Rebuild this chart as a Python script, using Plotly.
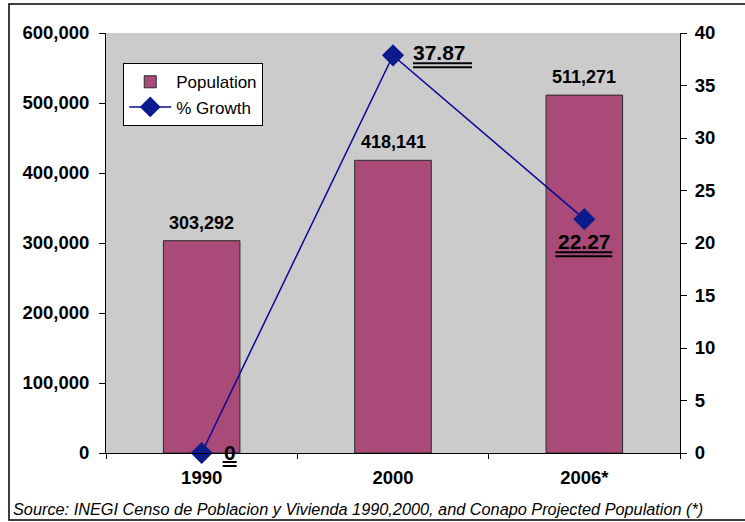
import plotly.graph_objects as go

# Population and growth data
years = ["1990", "2000", "2006*"]
population = [303292, 418141, 511271]
growth = [0, 37.87, 22.27]
growth_labels = ["0", "37.87", "22.27"]

pop_ticks = [0, 100000, 200000, 300000, 400000, 500000, 600000]
growth_ticks = [0, 5, 10, 15, 20, 25, 30, 35, 40]
POP_MAX = 600000
GROWTH_MAX = 40

source_note = "Source: INEGI Censo de Poblacion y Vivienda 1990,2000, and Conapo Projected Population (*)"

FONT = "Liberation Sans, Arial, sans-serif"
BAR_COLOR = "#A94A78"
LINE_COLOR = "#0A0A96"
MARKER_COLOR = "#0B1A8C"
TICK_FONT = dict(family=FONT, size=18.5, color="black", weight="bold")

fig = go.Figure()

fig.add_trace(go.Bar(
    x=years, y=population, name="Population",
    marker=dict(color=BAR_COLOR, line=dict(color="#2a2a2a", width=1)),
    width=0.4, yaxis="y",
))

fig.add_trace(go.Scatter(
    x=years, y=growth, name="% Growth", yaxis="y2",
    mode="lines+markers",
    line=dict(color=LINE_COLOR, width=1.5),
    marker=dict(symbol="diamond", size=17, color=MARKER_COLOR),
    cliponaxis=False,
))

annotations = []
# value labels above the bars (category positions given by index)
for i, v in enumerate(population):
    annotations.append(dict(
        x=i, y=v, xref="x", yref="y", text=f"<b>{v:,}</b>",
        showarrow=False, yanchor="bottom", yshift=6,
        font=dict(family=FONT, size=18, color="black"),
    ))

# growth labels: (x shift, y shift, x anchor, y anchor, underline x0, x1, underline offset)
growth_label_pos = [
    (20, 1, "left", "middle", 21, 35, -9),
    (18, 3, "left", "middle", 20, 79, -8),
    (0, -9, "center", "top", -29, 28, -33),
]
shapes = []
for i, (g, lab, (xs, ys, xa, ya, ux0, ux1, uoff)) in enumerate(zip(growth, growth_labels, growth_label_pos)):
    annotations.append(dict(
        x=i, y=g, xref="x", yref="y2", text=f"<b>{lab}</b>",
        showarrow=False, xanchor=xa, yanchor=ya, xshift=xs, yshift=ys,
        font=dict(family=FONT, size=21, color="black"),
    ))
    # double underline under each growth label
    for off in (uoff, uoff - 4):
        shapes.append(dict(
            type="line", xref="x", yref="paper",
            xsizemode="pixel", ysizemode="pixel",
            xanchor=i, yanchor=g / GROWTH_MAX,
            x0=ux0, x1=ux1, y0=off, y1=off,
            line=dict(color="black", width=2), layer="above",
        ))

annotations.append(dict(
    x=-0.166, y=-0.134, xref="paper", yref="paper", text=f"<i>{source_note}</i>",
    showarrow=False, xanchor="left", yanchor="middle",
    font=dict(family=FONT, size=16.3, color="black"),
))

# outer frame around the whole chart
shapes.append(dict(
    type="rect", xref="paper", yref="paper",
    x0=-0.169, x1=1.2, y0=-0.1595, y1=1.069,
    line=dict(color="black", width=1.5), fillcolor="rgba(0,0,0,0)", layer="below",
))

fig.update_layout(
    width=745, height=522,
    margin=dict(l=106, r=65, t=33, b=69),
    paper_bgcolor="white", plot_bgcolor="#CBCBCB",
    font=dict(family=FONT, color="black"),
    showlegend=True,
    legend=dict(
        x=0.03, y=0.928, xanchor="left", yanchor="top",
        bgcolor="white", bordercolor="black", borderwidth=1,
        font=dict(family=FONT, size=17, color="black"),
        itemwidth=42, tracegroupgap=0,
    ),
    xaxis=dict(
        type="category", showline=True, linecolor="black", linewidth=1,
        ticks="outside", tickson="boundaries", ticklen=5, tickcolor="black",
        tickfont=TICK_FONT, ticklabelstandoff=8,
        showgrid=False, range=[-0.5, 2.5],
    ),
    yaxis=dict(
        range=[0, POP_MAX], tickvals=pop_ticks, tickformat=",",
        showline=True, linecolor="black", linewidth=1,
        ticks="outside", ticklen=6, tickcolor="black",
        tickfont=TICK_FONT, ticklabelstandoff=6,
        showgrid=False, zeroline=False,
    ),
    yaxis2=dict(
        range=[0, GROWTH_MAX], tickvals=growth_ticks, overlaying="y", side="right",
        showline=True, linecolor="black", linewidth=1,
        ticks="outside", ticklen=6, tickcolor="black",
        tickfont=TICK_FONT, ticklabelstandoff=4,
        showgrid=False, zeroline=False,
    ),
    shapes=shapes,
    annotations=annotations,
    bargap=0.6,
)

fig.write_html("out.html")
